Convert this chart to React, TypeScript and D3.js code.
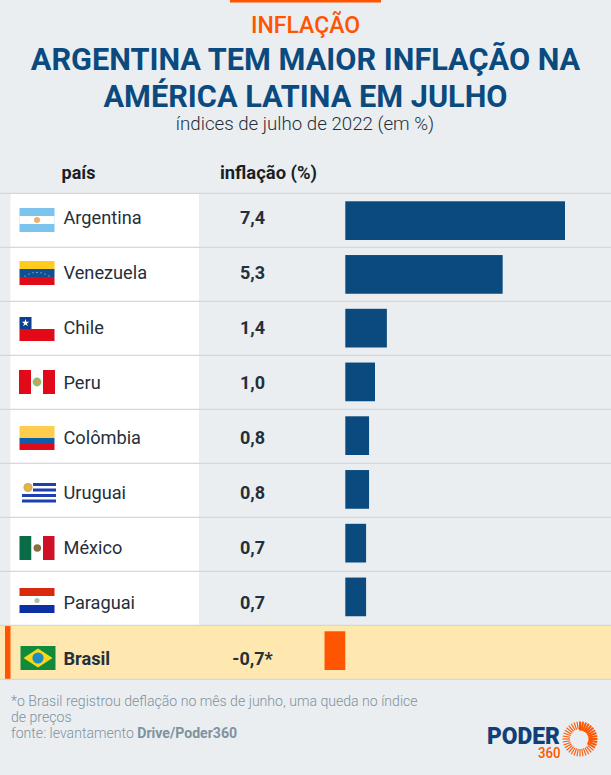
import React from "react";
import * as d3 from "d3";

const kicker = "INFLAÇÃO";
const titleLines = ["ARGENTINA TEM MAIOR INFLAÇÃO NA", "AMÉRICA LATINA EM JULHO"];
const subtitle = "índices de julho de 2022 (em %)";
const headers = ["país", "inflação (%)"];
const countries = ["Argentina", "Venezuela", "Chile", "Peru", "Colômbia", "Uruguai", "México", "Paraguai", "Brasil"];
const values = [7.4, 5.3, 1.4, 1.0, 0.8, 0.8, 0.7, 0.7, -0.7];
const valueLabels = ["7,4", "5,3", "1,4", "1,0", "0,8", "0,8", "0,7", "0,7", "-0,7*"];
const flagTops = [208, 261, 317, 370, 426, 483, 536, 588, 646];

const NAVY = "#0b4a7e";
const ORANGE = "#ff5500";
const BG = "#eaeef1";
const CREAM = "#fee8b0";
const INK = "#252f3a";
const GREY = "#7f929e";
const FONT = "Roboto, sans-serif";

const x = d3.scaleLinear().domain([0, 7.4]).range([345.3, 565]);
const rowLine = d3.scaleLinear().domain([0, 9]).range([193.4, 679.4]);
const barY = d3.scaleBand<string>().domain(countries).range([201.3, 670]).paddingInner(0.28);
const labelY = d3.scaleLinear().domain([0, 8]).range([223.7, 664.5]);

function Flag({ name, y }: { name: string; y: number }) {
  const fx = 19.5;
  const W = 35;
  const H = 24;
  const g = (c: React.ReactNode) => <g transform={`translate(${fx},${y})`}>{c}</g>;
  switch (name) {
    case "Argentina":
      return g(<>
        <rect width={W} height={H} fill="#7cc4ee" />
        <rect y={8} width={W} height={8} fill="#fff" />
        <circle cx={17.5} cy={12} r={3} fill="#eeb06a" />
      </>);
    case "Venezuela":
      return g(<>
        <rect width={W} height={8} fill="#ffcc1d" />
        <rect y={8} width={W} height={8} fill="#0f4f94" />
        <rect y={16} width={W} height={8} fill="#e10a18" />
        {d3.range(-3, 4).map((i) => (
          <circle key={i} cx={17.5 + i * 4} cy={15 - (9 - i * i) * 0.4} r={0.55} fill="#dfe8f2" />
        ))}
      </>);
    case "Chile":
      return g(<>
        <rect width={W} height={12} fill="#fff" />
        <rect y={12} width={W} height={12} fill="#e20a16" />
        <rect width={12} height={12} fill="#0d3f8f" />
        <path d={d3.symbol().type(d3.symbolStar).size(18)() || ""} transform="translate(6,6)" fill="#fff" />
      </>);
    case "Peru":
      return g(<>
        <rect x={-0.5} width={36} height={H} fill="#e10a18" />
        <rect x={11.5} width={12} height={H} fill="#fff" />
        <circle cx={17.5} cy={12} r={4.4} fill="#8dbb7a" />
        <circle cx={17.5} cy={12} r={2.4} fill="#d9a040" />
      </>);
    case "Colômbia":
      return g(<>
        <rect width={W} height={12} fill="#ffcd4e" />
        <rect y={12} width={W} height={6} fill="#0f5ca8" />
        <rect y={18} width={W} height={6} fill="#e10a18" />
      </>);
    case "Uruguai":
      return g(<>
        {d3.range(0, 4).map((i) => {
          const left = i < 2 ? 13.5 : 2.5;
          return <rect key={i} x={left} y={i * 5.5} width={W + 1.5 - left} height={3} fill="#1d3fb0" />;
        })}
        <circle cx={8.5} cy={4.5} r={4.6} fill="#cfae6a" />
        <circle cx={8.5} cy={4.5} r={2.4} fill="#f0b91e" />
      </>);
    case "México":
      return g(<>
        <rect width={12} height={H} fill="#0a6b47" />
        <rect x={12} width={11.5} height={H} fill="#fff" />
        <rect x={23.5} width={11.5} height={H} fill="#d01026" />
        <circle cx={17.8} cy={12} r={3.8} fill="#8e6a45" />
      </>);
    case "Paraguai":
      return g(<>
        <rect width={W} height={8} fill="#d92a10" />
        <rect y={8} width={W} height={9} fill="#fff" />
        <rect y={17} width={W} height={8} fill="#0d2fa5" />
        <circle cx={17.5} cy={12.5} r={2.6} fill="#a9c4b0" />
      </>);
    default:
      return (
        <g transform={`translate(20.5,${y})`}>
          <rect width={35} height={H} fill="#128a3c" />
          <path d="M17.5 2.5 L32 12 L17.5 21.5 L3 12 Z" fill="#fad719" />
          <circle cx={17.5} cy={12} r={5.6} fill="#1f8cc4" />
        </g>
      );
  }
}

const rayAngles = d3.range(0, 36).map((i) => (i * 360) / 36);

export default function App() {
  return (
    <svg width={611} height={775} viewBox="0 0 611 775"
      style={{ position: "absolute", left: 0, top: 0, background: BG, fontFamily: FONT }}>
      <rect width={611} height={775} fill={BG} />
      <rect x={230} y={0} width={151} height={2.5} fill={ORANGE} />
      <text x={305.5} y={33} textAnchor="middle" fontSize={23} fontWeight={500} fill={ORANGE}>{kicker}</text>
      {titleLines.map((t, i) => (
        <text key={t} x={305.5} y={70 + i * 36.5} textAnchor="middle" fontSize={30.7} fontWeight={700} fill={NAVY}>{t}</text>
      ))}
      <text x={305} y={129.5} textAnchor="middle" fontSize={18.7} fontWeight={300} fill={INK}>{subtitle}</text>
      <text x={78.5} y={179} textAnchor="middle" fontSize={18} fontWeight={700} fill="#1a1f26">{headers[0]}</text>
      <text x={268.5} y={179} textAnchor="middle" fontSize={18.4} fontWeight={700} fill="#1a1f26">{headers[1]}</text>

      <rect x={10.5} y={rowLine(0)} width={188.5} height={rowLine(8) - rowLine(0)} fill="#fff" />
      <rect x={0} y={rowLine(8)} width={611} height={rowLine(9) - rowLine(8)} fill={CREAM} />
      <rect x={5} y={rowLine(8)} width={5.5} height={rowLine(9) - rowLine(8)} fill={ORANGE} />
      {d3.range(0, 10).map((i) => (
        <line key={i} x1={0} x2={611} y1={rowLine(i)} y2={rowLine(i)} stroke="#d3d8dc" strokeWidth={1.2} />
      ))}

      {countries.map((c, i) => {
        const v = values[i];
        const isBr = c === "Brasil";
        return (
          <g key={c}>
            <Flag name={c} y={flagTops[i]} />
            <text x={63.5} y={labelY(i)} fontSize={18.2} fontWeight={isBr ? 700 : 400} fill={INK}>{c}</text>
            <text x={252.5} y={labelY(i)} textAnchor="middle" fontSize={18} fontWeight={700} fill={INK}>{valueLabels[i]}</text>
            <rect x={Math.min(x(0), x(v))} y={barY(c)} width={Math.abs(x(v) - x(0))} height={barY.bandwidth()}
              fill={v < 0 ? ORANGE : NAVY} />
          </g>
        );
      })}

      <g fontSize={14.1} fontWeight={300} fill={GREY}>
        <text x={11} y={706}>*o Brasil registrou deflação no mês de junho, uma queda no índice</text>
        <text x={11} y={722}>de preços</text>
        <text x={11} y={738}>fonte: levantamento <tspan fontWeight={700}>Drive/Poder360</tspan></text>
      </g>

      <text x={487} y={743.5} fontSize={24} fontWeight={900} fill="#123f78" textLength={73} lengthAdjust="spacingAndGlyphs">PODER</text>
      <text x={538} y={757.5} fontSize={14.5} fontWeight={500} fill={ORANGE} textLength={22.5} lengthAdjust="spacingAndGlyphs">360</text>
      <g transform="translate(580,739)">
        {rayAngles.map((a) => {
          const t = (a * Math.PI) / 180;
          const heavy = a < 130;
          return (
            <line key={a} x1={Math.sin(t) * (heavy ? 8.5 : 10)} y1={-Math.cos(t) * (heavy ? 8.5 : 10)}
              x2={Math.sin(t) * 17.5} y2={-Math.cos(t) * 17.5} stroke={ORANGE} strokeWidth={heavy ? 2 : 1.1} />
          );
        })}
      </g>
    </svg>
  );
}
